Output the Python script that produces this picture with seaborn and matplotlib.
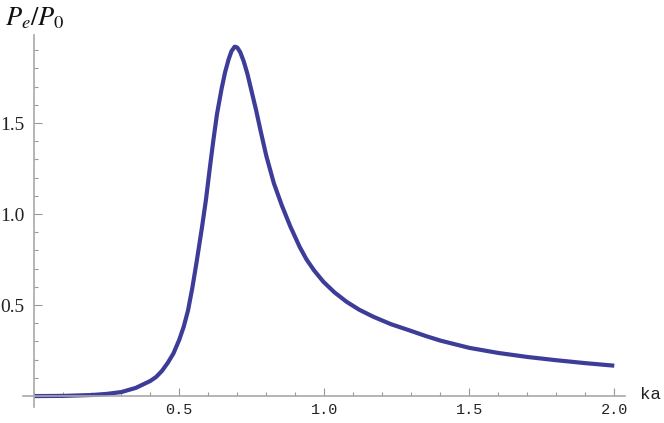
import numpy as np
import pandas as pd
import matplotlib
matplotlib.use("Agg")
import matplotlib.pyplot as plt
from matplotlib.ticker import MultipleLocator, FixedLocator
import seaborn as sns

# data
ka = [0.0, 0.1, 0.2, 0.25, 0.3, 0.35, 0.4, 0.42, 0.44, 0.46, 0.48, 0.5,
      0.515, 0.53, 0.545, 0.56, 0.578, 0.592, 0.605, 0.617, 0.63, 0.646,
      0.658, 0.67, 0.68, 0.691, 0.70, 0.71, 0.722, 0.735, 0.75, 0.765, 0.78,
      0.80, 0.826, 0.853, 0.882, 0.915, 0.939, 0.965, 0.997, 1.035, 1.077,
      1.12, 1.169, 1.23, 1.29, 1.35, 1.4, 1.5, 1.6, 1.7, 1.8, 1.9, 2.0]
pe_p0 = [0.0, 0.001, 0.006, 0.012, 0.022, 0.045, 0.083, 0.105, 0.138, 0.182,
         0.235, 0.31, 0.38, 0.47, 0.595, 0.74, 0.925, 1.08, 1.25, 1.40, 1.55,
         1.69, 1.78, 1.85, 1.895, 1.92, 1.915, 1.89, 1.84, 1.77, 1.67, 1.57,
         1.46, 1.32, 1.17, 1.05, 0.935, 0.82, 0.75, 0.69, 0.628, 0.57, 0.518,
         0.475, 0.436, 0.395, 0.363, 0.33, 0.305, 0.265, 0.237, 0.215, 0.197,
         0.181, 0.167]
xticks_major = [0.5, 1.0, 1.5, 2.0]
xtick_labels = ["0.5", "1.0", "1.5", "2.0"]
yticks_major = [0.5, 1.0, 1.5]
ytick_labels = ["0.5", "1.0", "1.5"]

df = pd.DataFrame({"ka": ka, "pe": pe_p0})

sns.set_style("white")
plt.rcParams.update({
    "mathtext.fontset": "stix",
    "xtick.bottom": True, "ytick.left": True,
    "xtick.top": False, "ytick.right": False,
    "xtick.direction": "in", "ytick.direction": "in",
    "xtick.major.size": 5.5, "ytick.major.size": 5.5,
    "xtick.minor.size": 3, "ytick.minor.size": 3,
    "xtick.major.width": 0.8, "ytick.major.width": 0.8,
    "xtick.minor.width": 0.8, "ytick.minor.width": 0.8,
    "xtick.minor.visible": True, "ytick.minor.visible": True,
    "xtick.color": "#999999", "ytick.color": "#999999",
})

W, H = 664, 423
fig = plt.figure(figsize=(W / 100, H / 100), dpi=100)
left, right, top, bottom = 23, 625, 35, 407
ax = fig.add_axes([left / W, 1 - bottom / H, (right - left) / W, (bottom - top) / H])

sns.lineplot(data=df, x="ka", y="pe", ax=ax, color="#3d3d99", linewidth=3,
             solid_capstyle="butt", solid_joinstyle="round")

ax.set_xlim(-0.039, 2.037)
ax.set_ylim(-0.06, 1.984)

axis_col = "#a8a8a8"
for s in ["top", "right"]:
    ax.spines[s].set_visible(False)
ax.spines["left"].set_position(("data", 0))
ax.spines["bottom"].set_position(("data", 0))
for s in ["left", "bottom"]:
    ax.spines[s].set_color(axis_col)
    ax.spines[s].set_linewidth(1.2)

ax.xaxis.set_major_locator(FixedLocator(xticks_major))
ax.set_xticklabels(xtick_labels)
ax.yaxis.set_major_locator(FixedLocator(yticks_major))
ax.set_yticklabels(ytick_labels)
ax.xaxis.set_minor_locator(MultipleLocator(0.1))
ax.yaxis.set_minor_locator(MultipleLocator(0.1))

ax.tick_params(axis="x", which="major", pad=5, labelsize=11, labelcolor="#222222")
ax.tick_params(axis="y", which="major", pad=7, labelsize=14, labelcolor="#222222")
for lab in ax.get_xticklabels():
    lab.set_family("Liberation Mono")
for lab in ax.get_yticklabels():
    lab.set_family("Liberation Serif")

ax.set_xlabel("")
ax.set_ylabel("")
ax.grid(False)

fig.text(640 / W, 1 - 394 / H, "ka", family="Liberation Mono", fontsize=12.5,
         ha="left", va="center", color="#222222")
fig.text(35 / W, 1 - 18 / H, r"$P_e/P_0$", fontsize=19, ha="center",
         va="center", color="#111111")

fig.savefig("out.png", dpi=100)
